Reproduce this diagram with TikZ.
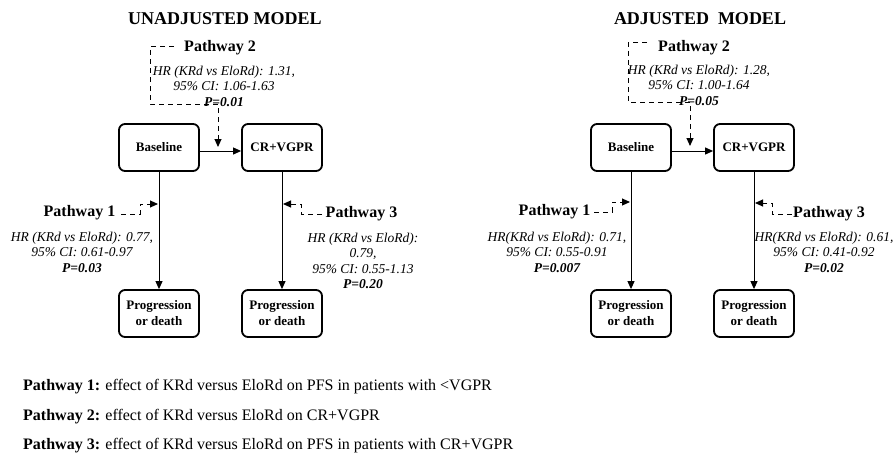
\documentclass[tikz,border=0pt]{standalone}
\usepackage{fontspec}
\setmainfont{Liberation Serif}
\usetikzlibrary{arrows.meta}
\begin{document}
\begin{tikzpicture}[x=1pt,y=-1pt,
 box/.style={draw, line width=1.8pt, rounded corners=6pt, minimum width=80pt, minimum height=47pt, font=\fontsize{13}{16}\selectfont\bfseries, align=center, inner sep=0pt},
 arr/.style={line width=1pt, -{Triangle[length=8pt,width=7pt]}},
 darr/.style={line width=1pt, dash pattern=on 5pt off 4pt, -{Triangle[length=8pt,width=7pt]}},
 ttl/.style={font=\fontsize{18}{20}\selectfont\bfseries, inner sep=0pt},
 pw/.style={font=\fontsize{16}{18}\selectfont\bfseries, inner sep=0pt},
 hr/.style={font=\fontsize{13.5}{15.5}\selectfont\itshape, align=center, inner sep=0pt},
 leg/.style={font=\fontsize{16}{18}\selectfont, anchor=base west, inner sep=0pt}
]
\useasboundingbox (0,0) rectangle (893,452);
% ---------- left panel ----------
\node[ttl] (t1) at (225,19) {UNADJUSTED MODEL};
\node[box] (b1) at (159,147.5) {Baseline};
\node[box] (c1) at (282,147.5) {CR+VGPR};
\node[box] (p1) at (159,313.5) {Progression\\or death};
\node[box] (q1) at (282,313.5) {Progression\\or death};
\draw[arr] ([yshift=-3.5pt]b1.east) -- ([yshift=-3.5pt]c1.west);
\draw[arr] (b1.south) -- (p1.north);
\draw[arr] (c1.south) -- (q1.north);
\node[pw] (w2a) at (220,48) {Pathway 2};
\node[hr] (h2a) at (224,86) {HR (KRd vs EloRd): 1.31,\\95\% CI: 1.06-1.63\\\textbf{P=0.01}};
\coordinate (s2a) at (174,47);
\coordinate (e2a) at (218,147);
\draw[darr] (s2a) -- (150,47) -- (150,104) -- (218,104) -- (e2a);
\node[pw] (w1a) at (79.5,213) {Pathway 1};
\node[hr] (h1a) at (82,252) {HR (KRd vs EloRd): 0.77,\\95\% CI: 0.61-0.97\\\textbf{P=0.03}};
\coordinate (s1a) at (121,214);
\coordinate (e1a) at (158,204);
\draw[darr] (s1a) -- (140,214) -- (140,204) -- (e1a);
\node[pw] (w3a) at (361.5,214) {Pathway 3};
\node[hr] (h3a) at (363,261) {HR (KRd vs EloRd):\\0.79,\\95\% CI: 0.55-1.13\\\textbf{P=0.20}};
\coordinate (s3a) at (322,214);
\coordinate (e3a) at (283,204);
\draw[darr] (s3a) -- (301,214) -- (301,204) -- (e3a);
% ---------- right panel ----------
\node[ttl] (t2) at (700,19) {ADJUSTED\ \ MODEL};
\node[box] (b2) at (631,147.5) {Baseline};
\node[box] (c2) at (754,147.5) {CR+VGPR};
\node[box] (p2) at (631,313.5) {Progression\\or death};
\node[box] (q2) at (754,313.5) {Progression\\or death};
\draw[arr] ([yshift=-3.5pt]b2.east) -- ([yshift=-3.5pt]c2.west);
\draw[arr] (b2.south) -- (p2.north);
\draw[arr] (c2.south) -- (q2.north);
\node[pw] (w2b) at (694,48) {Pathway 2};
\node[hr] (h2b) at (699,85) {HR (KRd vs EloRd): 1.28,\\95\% CI: 1.00-1.64\\\textbf{P=0.05}};
\coordinate (s2b) at (647,43);
\coordinate (e2b) at (690,146);
\draw[darr] (s2b) -- (628,43) -- (628,102) -- (690,102) -- (e2b);
\node[pw] (w1b) at (554.5,212) {Pathway 1};
\node[hr] (h1b) at (557,252) {HR(KRd vs EloRd): 0.71,\\95\% CI: 0.55-0.91\\\textbf{P=0.007}};
\coordinate (s1b) at (594,212);
\coordinate (e1b) at (630,202);
\draw[darr] (s1b) -- (612,212) -- (612,202) -- (e1b);
\node[pw] (w3b) at (829,214) {Pathway 3};
\node[hr] (h3b) at (824,252) {HR(KRd vs EloRd): 0.61,\\95\% CI: 0.41-0.92\\\textbf{P=0.02}};
\coordinate (s3b) at (792,214);
\coordinate (e3b) at (755,203);
\draw[darr] (s3b) -- (772,214) -- (772,203) -- (e3b);
% ---------- legend ----------
\node[leg] (l1) at (23,390) {\textbf{Pathway 1:} effect of KRd versus EloRd on PFS in patients with <VGPR};
\node[leg] (l2) at (23,420) {\textbf{Pathway 2:} effect of KRd versus EloRd on CR+VGPR};
\node[leg] (l3) at (23,449) {\textbf{Pathway 3:} effect of KRd versus EloRd on PFS in patients with CR+VGPR};
\end{tikzpicture}
\end{document}
